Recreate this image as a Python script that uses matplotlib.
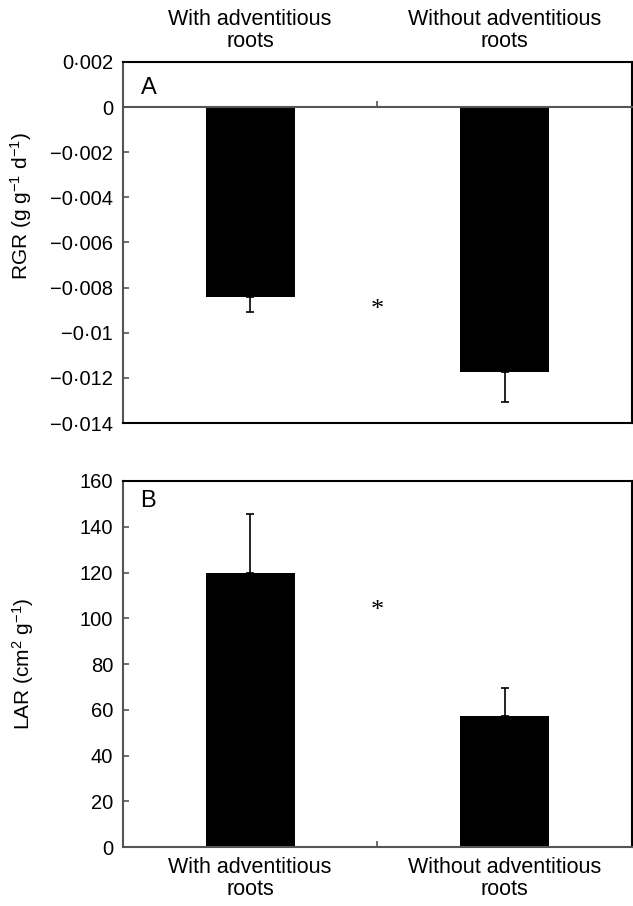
import matplotlib
matplotlib.use("Agg")
import matplotlib.pyplot as plt
import numpy as np

plt.rcParams["font.family"] = ["Liberation Sans", "DejaVu Sans"]
plt.rcParams["mathtext.default"] = "regular"

grupos = ["With adventitious\nroots", "Without adventitious\nroots"]

rgr = [-0.0084, -0.01174]
rgr_erro = [0.00069, 0.00135]
rgr_ticks = [0.002, 0, -0.002, -0.004, -0.006, -0.008, -0.01, -0.012, -0.014]
rgr_asterisco = -0.0090

lar = [119.6, 57.3]
lar_erro = [26.0, 12.2]
lar_ticks = [0, 20, 40, 60, 80, 100, 120, 140, 160]
lar_asterisco = 103


def rotulo(v):
    if v == 0:
        return "0"
    s = f"{abs(v):g}".replace(".", "\u00b7")
    return ("\u2212" if v < 0 else "") + s


cinza = "#555555"
x = np.arange(len(grupos))

fig = plt.figure(figsize=(6.33, 9.06), dpi=100)
ax_a = fig.add_axes([0.194, 0.5331, 0.804, 0.3985])
ax_b = fig.add_axes([0.194, 0.0651, 0.804, 0.4040])

# Painel A - RGR
ax_a.bar(x, rgr, width=0.35, color="black", zorder=2)
ax_a.errorbar(x, rgr, yerr=[rgr_erro, [0, 0]], fmt="none", ecolor="black",
              elinewidth=1.2, capsize=3, capthick=1.2, zorder=3)
ax_a.set_xlim(-0.5, 1.5)
ax_a.set_ylim(-0.014, 0.002)
ax_a.set_yticks(rgr_ticks)
ax_a.set_yticklabels([rotulo(v) for v in rgr_ticks])
ax_a.spines["bottom"].set_position(("data", 0))
ax_a.spines["bottom"].set_color(cinza)
ax_a.axhline(-0.014, color="black", lw=1.5, clip_on=False, zorder=4)
ax_a.set_xticks(x)
ax_a.set_xticklabels(grupos, fontsize=15.5, linespacing=1.05)
ax_a.tick_params(axis="x", which="major", length=0, top=False, bottom=False,
                 labeltop=True, labelbottom=False, pad=7)
ax_a.set_xticks([0.5], minor=True)
ax_a.tick_params(axis="x", which="minor", direction="in", length=4,
                 width=1.2, color=cinza)
ax_a.set_ylabel("RGR (g g$^{-1}$ d$^{-1}$)", fontsize=15)
ax_a.yaxis.set_label_coords(-0.174, 0.601)
ax_a.text(0.5, rgr_asterisco, "*", fontsize=19, ha="center", va="center",
          family="Liberation Serif")
ax_a.text(0.035, 0.957, "A", transform=ax_a.transAxes, fontsize=17,
          ha="left", va="top")

# Painel B - LAR
ax_b.bar(x, lar, width=0.35, color="black", zorder=2)
ax_b.errorbar(x, lar, yerr=[[0, 0], lar_erro], fmt="none", ecolor="black",
              elinewidth=1.2, capsize=3, capthick=1.2, zorder=3)
ax_b.set_xlim(-0.5, 1.5)
ax_b.set_ylim(0, 160)
ax_b.set_yticks(lar_ticks)
ax_b.set_xticks(x)
ax_b.set_xticklabels(grupos, fontsize=15.5, linespacing=1.05)
ax_b.tick_params(axis="x", which="major", length=0, pad=7)
ax_b.set_xticks([0.5], minor=True)
ax_b.tick_params(axis="x", which="minor", direction="in", length=4,
                 width=1.2, color=cinza)
ax_b.spines["bottom"].set_color(cinza)
ax_b.set_ylabel("LAR (cm$^{2}$ g$^{-1}$)", fontsize=15)
ax_b.yaxis.set_label_coords(-0.170, 0.5)
ax_b.text(0.5, lar_asterisco, "*", fontsize=19, ha="center", va="center",
          family="Liberation Serif")
ax_b.text(0.035, 0.975, "B", transform=ax_b.transAxes, fontsize=17,
          ha="left", va="top")

for ax in (ax_a, ax_b):
    ax.spines["left"].set_color(cinza)
    for s in ax.spines.values():
        s.set_linewidth(1.5)
    ax.tick_params(axis="y", direction="in", length=4, width=1.2,
                   color=cinza, labelsize=14.5, pad=7)

fig.savefig("out.png", dpi=100)
